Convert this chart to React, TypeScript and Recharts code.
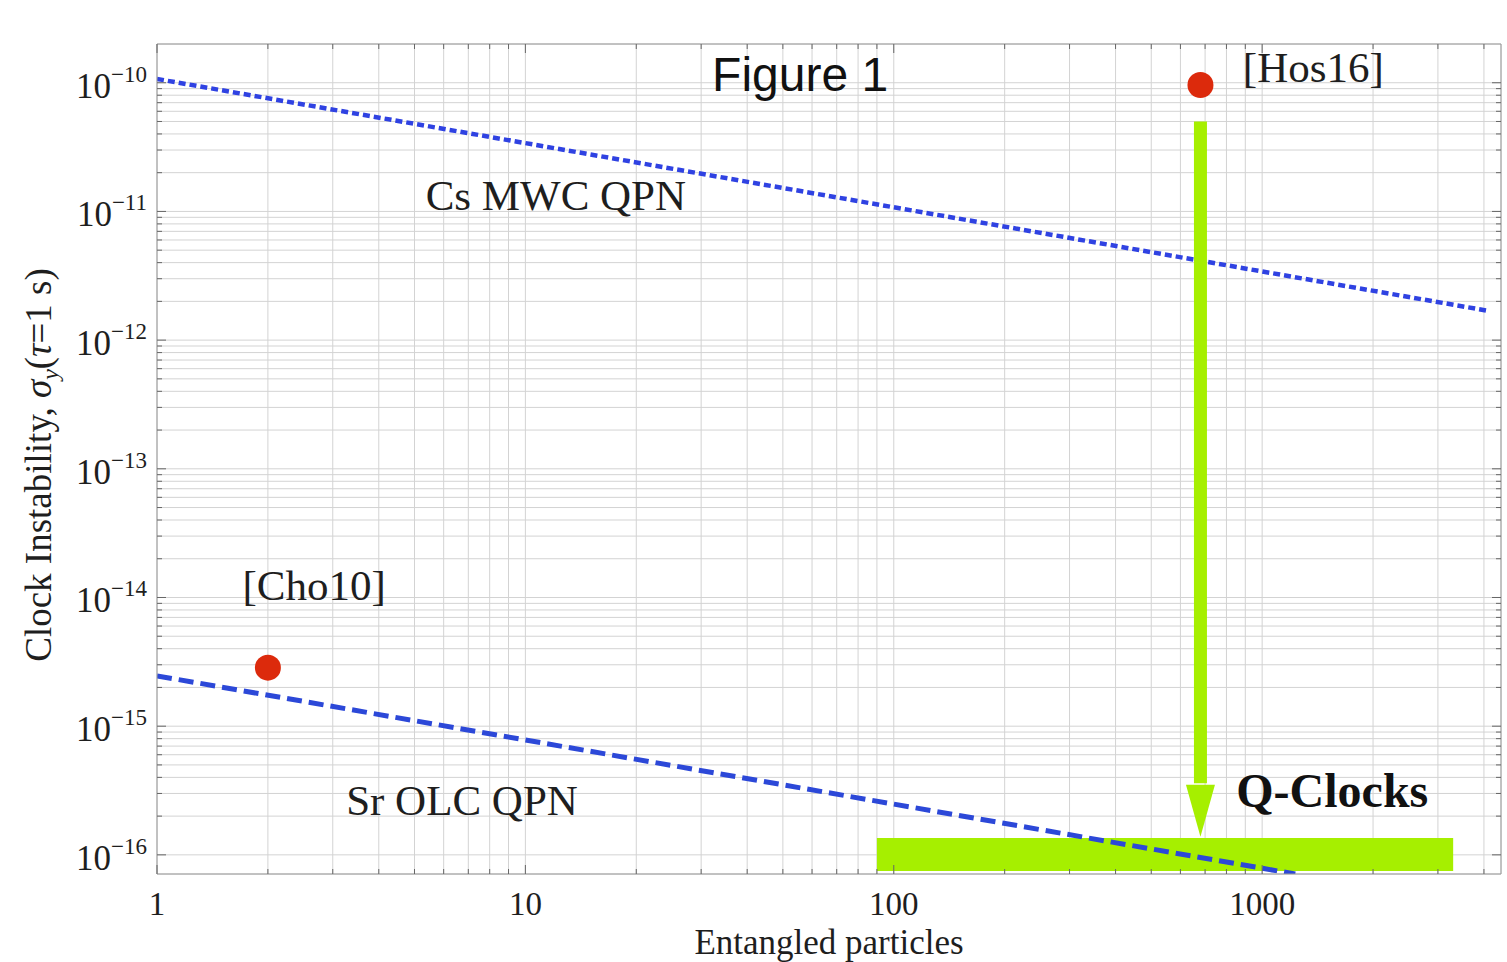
import React from "react";
import {
  ComposedChart,
  Line,
  Scatter,
  XAxis,
  YAxis,
  CartesianGrid,
  ReferenceArea,
  ReferenceDot,
  ReferenceLine,
  Label,
} from "recharts";

// ---------- data ----------
const xDomain: [number, number] = [1, 4450];
const yDomain: [number, number] = [7.1e-17, 2e-10];

const xDecades = [1, 10, 100, 1000];
const yDecades = [1e-16, 1e-15, 1e-14, 1e-13, 1e-12, 1e-11, 1e-10];
const minorSteps = [1, 2, 3, 4, 5, 6, 7, 8, 9];

const csMwcQpn = [
  { x: 1, y: 1.07e-10 },
  { x: 4100, y: 1.69e-12 },
];
const srOlcQpn = [
  { x: 1, y: 2.46e-15 },
  { x: 1230, y: 7.1e-17 },
];
const experiments = [
  { x: 2, y: 2.85e-15, name: "[Cho10]" },
  { x: 680, y: 9.6e-11, name: "[Hos16]" },
];
const arrowShaft = [
  { x: 680, y: 5.0e-11 },
  { x: 680, y: 3.6e-16 },
];
const arrowTip = [{ x: 680, y: 1.38e-16 }];
const qClockBand = { x1: 90, x2: 3300, y1: 7.5e-17, y2: 1.35e-16 };

const annotations = [
  { text: "Figure 1", x: 55.7, y: 8.67e-11, kind: "title" },
  { text: "Cs MWC QPN", x: 12.1, y: 1.03e-11, kind: "serif" },
  { text: "Sr OLC QPN", x: 6.73, y: 2.05e-16, kind: "serif" },
  { text: "[Cho10]", x: 2.67, y: 9.6e-15, kind: "serif" },
  { text: "[Hos16]", x: 1377, y: 1.02e-10, kind: "serif" },
  { text: "Q-Clocks", x: 1550, y: 2.36e-16, kind: "bold" },
];

// ---------- styling / layout ----------
const W = 1507;
const H = 962;
const PLOT_TOP = 44;
const PLOT_LEFT = 157;
const PLOT_RIGHT = 1501;
const PLOT_BOTTOM = 874;
const SERIF = "'Liberation Serif', 'Times New Roman', serif";
const SANS = "'Liberation Sans', Arial, sans-serif";
const GREEN = "#a6ef00";
const RED = "#dc2a0c";
const BLUE1 = "#2f42e2";
const BLUE2 = "#2c48d8";
const GRID = "#d3d3d3";
const FRAME = "#9a9a9a";
const TICK = "#666";
const TEXT = "#1e1e1e";

const xTicks = xDecades
  .flatMap((d) => minorSteps.map((m) => m * d))
  .filter((v) => v >= xDomain[0] && v <= xDomain[1]);
const yTicks = yDecades
  .flatMap((d) => minorSteps.map((m) => m * d))
  .filter((v) => v >= 1e-16 && v <= 1.0000001e-10);

const isPow10 = (v: number) => {
  const e = Math.round(Math.log10(v));
  return Math.abs(v / Math.pow(10, e) - 1) < 1e-6;
};

const XTick = (props: any) => {
  const { x, y, payload } = props;
  const v = payload.value;
  const major = isPow10(v);
  const len = major ? 9 : 5;
  return (
    <g>
      <line x1={x} x2={x} y1={y} y2={y - len} stroke={TICK} strokeWidth={1} />
      <line x1={x} x2={x} y1={PLOT_TOP} y2={PLOT_TOP + len} stroke={TICK} strokeWidth={1} />
      {major && (
        <text x={x} y={y + 41} textAnchor="middle" fontFamily={SERIF} fontSize={33} fill={TEXT}>
          {String(Math.round(v))}
        </text>
      )}
    </g>
  );
};

const YTick = (props: any) => {
  const { x, y, payload } = props;
  const v = payload.value;
  const major = isPow10(v);
  const len = major ? 9 : 5;
  const e = Math.round(Math.log10(v));
  return (
    <g>
      <line x1={x} x2={x + len} y1={y} y2={y} stroke={TICK} strokeWidth={1} />
      <line x1={PLOT_RIGHT} x2={PLOT_RIGHT - len} y1={y} y2={y} stroke={TICK} strokeWidth={1} />
      {major && (
        <text x={x - 10} y={y + 15} textAnchor="end" fontFamily={SERIF} fontSize={35} fill={TEXT}>
          <tspan>10</tspan>
          <tspan dy={-16} fontSize={23}>{"\u2212" + Math.abs(e)}</tspan>
        </text>
      )}
    </g>
  );
};

const YTitle = () => (
  <text
    x={51}
    y={465}
    transform="rotate(-90, 51, 465)"
    textAnchor="middle"
    fontFamily={SERIF}
    fontSize={37}
    fill={TEXT}
  >
    <tspan>Clock Instability, </tspan>
    <tspan fontStyle="italic">σ</tspan>
    <tspan fontStyle="italic" fontSize={24} dy={7}>y</tspan>
    <tspan dy={-7}>(</tspan>
    <tspan fontStyle="italic">τ</tspan>
    <tspan>=1 s)</tspan>
  </text>
);

const XTitle = () => (
  <text x={829} y={954} textAnchor="middle" fontFamily={SERIF} fontSize={35} fill={TEXT}>
    Entangled particles
  </text>
);

const Dot = (props: any) => {
  const { cx, cy } = props;
  return <circle cx={cx} cy={cy} r={13} fill={RED} />;
};

const ArrowHead = (props: any) => {
  const { cx, cy } = props;
  return (
    <polygon
      points={`${cx - 14.5},${cy - 52} ${cx + 14.5},${cy - 52} ${cx},${cy}`}
      fill={GREEN}
    />
  );
};

const makeAnnotation = (text: string, kind: string) => (props: any) => {
  const { cx, cy } = props;
  if (kind === "title") {
    return (
      <text x={cx} y={cy} textAnchor="middle" fontFamily={SANS} fontSize={48} fill="#111">
        {text}
      </text>
    );
  }
  return (
    <text
      x={cx}
      y={cy}
      textAnchor="middle"
      fontFamily={SERIF}
      fontSize={kind === "bold" ? 48 : 43}
      fontWeight={kind === "bold" ? "bold" : "normal"}
      fill={kind === "bold" ? "#111" : TEXT}
    >
      {text}
    </text>
  );
};

export default function App() {
  return (
    <div
      style={{
        position: "absolute",
        left: 0,
        top: 0,
        width: W,
        height: H,
        overflow: "hidden",
        background: "#fff",
      }}
    >
      <ComposedChart
        width={W}
        height={H}
        margin={{ top: PLOT_TOP, right: W - PLOT_RIGHT, bottom: H - PLOT_BOTTOM - 50, left: PLOT_LEFT - 60 }}
      >
        <CartesianGrid stroke={GRID} strokeWidth={1} />
        <XAxis
          dataKey="x"
          type="number"
          scale="log"
          domain={xDomain}
          allowDataOverflow
          ticks={xTicks}
          interval={0}
          height={50}
          tickLine={false}
          tickSize={0}
          tickMargin={0}
          axisLine={{ stroke: FRAME }}
          tick={<XTick />}
        >
          <Label content={<XTitle />} />
        </XAxis>
        <YAxis
          dataKey="y"
          type="number"
          scale="log"
          domain={yDomain}
          allowDataOverflow
          ticks={yTicks}
          interval={0}
          width={60}
          tickLine={false}
          tickSize={0}
          tickMargin={0}
          axisLine={{ stroke: FRAME }}
          tick={<YTick />}
        >
          <Label content={<YTitle />} />
        </YAxis>
        <ReferenceLine y={yDomain[1]} stroke={FRAME} />
        <ReferenceLine x={xDomain[1]} stroke={FRAME} />

        <ReferenceArea
          x1={qClockBand.x1}
          x2={qClockBand.x2}
          y1={qClockBand.y1}
          y2={qClockBand.y2}
          fill={GREEN}
          fillOpacity={1}
          stroke="none"
        />

        <Line
          data={csMwcQpn}
          dataKey="y"
          stroke={BLUE1}
          strokeWidth={4.5}
          strokeDasharray="7 4"
          dot={false}
          activeDot={false}
          isAnimationActive={false}
          type="linear"
        />
        <Line
          data={arrowShaft}
          dataKey="y"
          stroke={GREEN}
          strokeWidth={13}
          dot={false}
          activeDot={false}
          isAnimationActive={false}
          type="linear"
        />
        <Scatter data={arrowTip} dataKey="y" shape={<ArrowHead />} isAnimationActive={false} />
        <Line
          data={srOlcQpn}
          dataKey="y"
          stroke={BLUE2}
          strokeWidth={5}
          strokeDasharray="15 7"
          dot={false}
          activeDot={false}
          isAnimationActive={false}
          type="linear"
        />
        <Scatter data={experiments} dataKey="y" shape={<Dot />} isAnimationActive={false} />

        {annotations.map((a) => (
          <ReferenceDot
            key={a.text}
            x={a.x}
            y={a.y}
            r={0}
            ifOverflow="visible"
            shape={makeAnnotation(a.text, a.kind)}
          />
        ))}
      </ComposedChart>
    </div>
  );
}
